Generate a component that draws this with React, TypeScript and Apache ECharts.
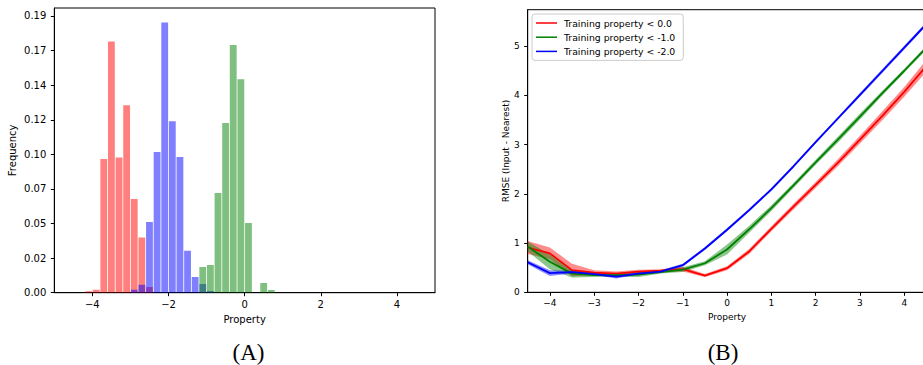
import React, { useEffect, useRef } from 'react';
import * as echarts from 'echarts';

// ---------- Panel A: histogram ----------
const BIN_WIDTH = 0.2;
const RED_BINS = [-4.2, -4.0, -3.8, -3.6, -3.4, -3.2, -3.0, -2.8, -2.6];
const RED_FREQ = [0.001, 0.002, 0.092, 0.173, 0.093, 0.129, 0.0645, 0.038, 0.004];
const BLUE_BINS = [-3.0, -2.8, -2.6, -2.4, -2.2, -2.0, -1.8, -1.6, -1.4, -1.2, -1.0];
const BLUE_FREQ = [0.002, 0.0055, 0.0487, 0.0968, 0.186, 0.118, 0.0935, 0.0288, 0.0108, 0.006, 0.0012];
const GREEN_BINS = [-1.2, -1.0, -0.8, -0.6, -0.4, -0.2, 0.0, 0.4, 0.6];
const GREEN_FREQ = [0.0177, 0.019, 0.0686, 0.1168, 0.1705, 0.147, 0.048, 0.0067, 0.0019];
const HIST_Y_TICKS = [0, 0.0238, 0.0476, 0.0714, 0.0952, 0.119, 0.1429, 0.1667, 0.1905];
const HIST_Y_LABELS = ['0.00', '0.02', '0.05', '0.07', '0.10', '0.12', '0.14', '0.17', '0.19'];
const HIST_X_TICKS = [-4, -2, 0, 2, 4];

// ---------- Panel B: RMSE lines ----------
const PROPERTY = [-4.5, -4, -3.5, -3, -2.5, -2, -1.5, -1, -0.5, 0, 0.5, 1, 1.5, 2, 2.5, 3, 3.5, 4, 4.5];
const RED_RMSE = [0.91, 0.79, 0.45, 0.4, 0.38, 0.42, 0.44, 0.47, 0.34, 0.49, 0.83, 1.29, 1.74, 2.18, 2.63, 3.1, 3.58, 4.07, 4.6];
const RED_STD = [0.13, 0.12, 0.13, 0.05, 0.04, 0.04, 0.03, 0.05, 0.03, 0.04, 0.05, 0.05, 0.06, 0.06, 0.07, 0.08, 0.09, 0.1, 0.12];
const GREEN_RMSE = [0.93, 0.62, 0.38, 0.35, 0.35, 0.36, 0.41, 0.46, 0.59, 0.87, 1.28, 1.71, 2.17, 2.64, 3.1, 3.57, 4.04, 4.5, 4.97];
const GREEN_STD = [0.1, 0.15, 0.08, 0.04, 0.04, 0.05, 0.03, 0.05, 0.04, 0.1, 0.07, 0.06, 0.05, 0.05, 0.06, 0.06, 0.05, 0.04, 0.04];
const BLUE_RMSE = [0.61, 0.39, 0.41, 0.37, 0.32, 0.38, 0.42, 0.55, 0.89, 1.27, 1.67, 2.09, 2.56, 3.05, 3.53, 4.01, 4.49, 4.97, 5.45];
const BLUE_STD = [0.04, 0.06, 0.03, 0.02, 0.04, 0.02, 0.03, 0.03, 0.03, 0.03, 0.03, 0.03, 0.03, 0.03, 0.03, 0.04, 0.04, 0.04, 0.04];
const RMSE_X_TICKS = [-4, -3, -2, -1, 0, 1, 2, 3, 4];
const RMSE_Y_TICKS = [0, 1, 2, 3, 4, 5];
const LEGEND_NAMES = ['Training property < 0.0', 'Training property < -1.0', 'Training property < -2.0'];

const FONT = 'DejaVu Sans';
const fmt = (v: number) => (v < 0 ? '\u2212' + Math.abs(v) : String(v));

function histSeries(bins: number[], freq: number[], color: string) {
  return {
    type: 'custom',
    xAxisIndex: 0,
    yAxisIndex: 0,
    silent: true,
    clip: true,
    data: bins.map((b, i) => [b, freq[i]]),
    renderItem: (params: any, api: any) => {
      const x0 = api.value(0);
      const v = api.value(1);
      const a = api.coord([x0, v]);
      const b = api.coord([x0 + BIN_WIDTH, 0]);
      return {
        type: 'rect',
        shape: { x: a[0] + 0.4, y: a[1], width: b[0] - a[0] - 0.8, height: b[1] - a[1] },
        style: { fill: color },
      };
    },
  };
}

function bandSeries(mean: number[], std: number[], color: string) {
  return {
    type: 'custom',
    xAxisIndex: 1,
    yAxisIndex: 1,
    silent: true,
    clip: true,
    z: 1,
    data: PROPERTY.map((x, i) => [x, mean[i]]),
    renderItem: (params: any, api: any) => {
      if (params.dataIndex !== 0) return { type: 'group', children: [] };
      const pts: number[][] = [];
      for (let i = 0; i < PROPERTY.length; i++) pts.push(api.coord([PROPERTY[i], mean[i] + std[i]]));
      for (let i = PROPERTY.length - 1; i >= 0; i--) pts.push(api.coord([PROPERTY[i], mean[i] - std[i]]));
      return { type: 'polygon', shape: { points: pts }, style: { fill: color } };
    },
  };
}

function lineSeries(name: string, mean: number[], color: string) {
  return {
    type: 'line',
    name,
    xAxisIndex: 1,
    yAxisIndex: 1,
    z: 3,
    showSymbol: false,
    symbol: 'none',
    clip: true,
    color,
    lineStyle: { color, width: 1.8 },
    data: PROPERTY.map((x, i) => [x, mean[i]]),
  };
}

const axisCommon = {
  axisLine: { show: true, onZero: false, lineStyle: { color: '#000', width: 1 } },
  axisTick: { show: true, length: 3.5, inside: false, lineStyle: { color: '#000', width: 1 } },
  splitLine: { show: false },
};

export default function App() {
  const ref = useRef<HTMLDivElement>(null);
  useEffect(() => {
    if (!ref.current) return;
    const chart = echarts.init(ref.current, undefined, { renderer: 'svg' });
    chart.setOption({
      animation: false,
      backgroundColor: '#fff',
      textStyle: { fontFamily: FONT },
      grid: [
        { left: 54.3, top: 8, width: 380.7, height: 284.7, show: true, borderColor: '#000', borderWidth: 1 },
        { left: 527.7, top: 9.7, width: 398.7, height: 282.6, show: true, borderColor: '#000', borderWidth: 1 },
      ],
      xAxis: [
        {
          ...axisCommon,
          type: 'value',
          gridIndex: 0,
          min: -5,
          max: 5,
          axisTick: { ...axisCommon.axisTick, customValues: HIST_X_TICKS },
          axisLabel: { customValues: HIST_X_TICKS, formatter: fmt, color: '#000', fontSize: 10, fontFamily: FONT, margin: 7 },
          name: 'Property',
          nameLocation: 'middle',
          nameGap: 26,
          nameTextStyle: { color: '#000', fontSize: 10, fontFamily: FONT, verticalAlign: 'middle' },
        },
        {
          ...axisCommon,
          type: 'value',
          gridIndex: 1,
          min: -4.5,
          max: 4.5,
          axisTick: { ...axisCommon.axisTick, customValues: RMSE_X_TICKS },
          axisLabel: { customValues: RMSE_X_TICKS, formatter: fmt, color: '#000', fontSize: 9, fontFamily: FONT, margin: 6.5 },
          name: 'Property',
          nameLocation: 'middle',
          nameGap: 24.5,
          nameTextStyle: { color: '#000', fontSize: 9, fontFamily: FONT, verticalAlign: 'middle' },
        },
      ],
      yAxis: [
        {
          ...axisCommon,
          type: 'value',
          gridIndex: 0,
          min: 0,
          max: 0.196,
          axisTick: { ...axisCommon.axisTick, customValues: HIST_Y_TICKS },
          axisLabel: {
            customValues: HIST_Y_TICKS,
            formatter: (v: number) => {
              let best = 0;
              HIST_Y_TICKS.forEach((t, i) => {
                if (Math.abs(t - v) < Math.abs(HIST_Y_TICKS[best] - v)) best = i;
              });
              return HIST_Y_LABELS[best];
            },
            color: '#000',
            fontSize: 10,
            fontFamily: FONT,
            margin: 8,
          },
          name: 'Frequency',
          nameLocation: 'middle',
          nameGap: 42,
          nameRotate: 90,
          nameTextStyle: { color: '#000', fontSize: 10, fontFamily: FONT, verticalAlign: 'middle' },
        },
        {
          ...axisCommon,
          type: 'value',
          gridIndex: 1,
          min: 0,
          max: 5.74,
          axisTick: { ...axisCommon.axisTick, customValues: RMSE_Y_TICKS },
          axisLabel: { customValues: RMSE_Y_TICKS, color: '#000', fontSize: 9, fontFamily: FONT, margin: 8 },
          name: 'RMSE (Input - Nearest)',
          nameLocation: 'middle',
          nameGap: 22,
          nameRotate: 90,
          nameTextStyle: { color: '#000', fontSize: 9, fontFamily: FONT, verticalAlign: 'middle' },
        },
      ],
      legend: {
        data: LEGEND_NAMES,
        orient: 'vertical',
        left: 532,
        top: 14,
        icon: 'rect',
        itemWidth: 21,
        itemHeight: 1.5,
        itemGap: 4.2,
        padding: [4, 8, 4, 4],
        backgroundColor: 'rgba(255,255,255,0.8)',
        borderColor: '#ccc',
        borderWidth: 1,
        borderRadius: 3,
        selectedMode: false,
        textStyle: { color: '#000', fontSize: 9.3, fontFamily: FONT, lineHeight: 10, padding: [0, 0, 0, 2] },
      },
      graphic: [
        {
          type: 'text',
          x: 248.5,
          y: 352,
          style: { text: '(A)', fontSize: 23, fontFamily: 'Liberation Serif', fill: '#000', align: 'center', verticalAlign: 'middle', textAlign: 'center', textVerticalAlign: 'middle' },
        },
        {
          type: 'text',
          x: 723,
          y: 352,
          style: { text: '(B)', fontSize: 23, fontFamily: 'Liberation Serif', fill: '#000', align: 'center', verticalAlign: 'middle', textAlign: 'center', textVerticalAlign: 'middle' },
        },
      ],
      series: [
        histSeries(RED_BINS, RED_FREQ, 'rgba(255,0,0,0.5)'),
        histSeries(BLUE_BINS, BLUE_FREQ, 'rgba(0,0,255,0.5)'),
        histSeries(GREEN_BINS, GREEN_FREQ, 'rgba(0,128,0,0.5)'),
        bandSeries(RED_RMSE, RED_STD, 'rgba(255,0,0,0.45)'),
        bandSeries(GREEN_RMSE, GREEN_STD, 'rgba(0,128,0,0.45)'),
        bandSeries(BLUE_RMSE, BLUE_STD, 'rgba(0,0,255,0.45)'),
        lineSeries(LEGEND_NAMES[0], RED_RMSE, '#ff0000'),
        lineSeries(LEGEND_NAMES[1], GREEN_RMSE, '#008000'),
        lineSeries(LEGEND_NAMES[2], BLUE_RMSE, '#0000ff'),
      ],
    });
    return () => chart.dispose();
  }, []);
  return (
    <div style={{ position: 'fixed', left: 0, top: 0, width: 923, height: 365, overflow: 'hidden', background: '#fff' }}>
      <div ref={ref} style={{ width: 932, height: 365 }} />
    </div>
  );
}
